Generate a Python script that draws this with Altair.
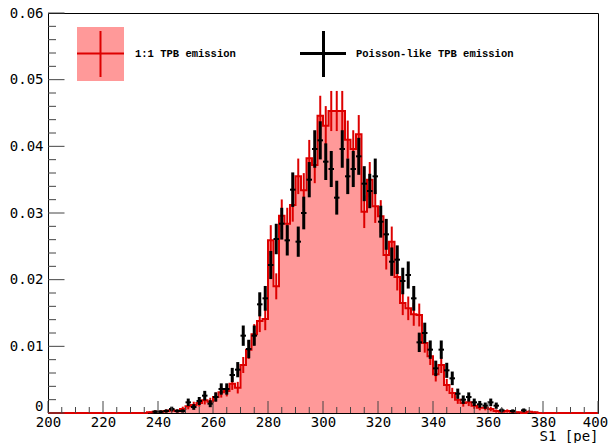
import altair as alt
import pandas as pd
import numpy as np

# ---------------- data ----------------
BIN_WIDTH = 2
bin_centers = list(range(235, 380, 2))  # 73 bins, 234..380

red_vals = [
    0.0000, 0.0001, 0.0002, 0.0002, 0.0003, 0.0004, 0.0003, 0.0006, 0.0010, 0.0012,
    0.0015, 0.0019, 0.0017, 0.0024, 0.0031, 0.0033, 0.0044, 0.0038, 0.0072, 0.0095,
    0.0118, 0.0138, 0.0141, 0.0259, 0.0190, 0.0296, 0.0284, 0.0312, 0.0355, 0.0334,
    0.0382, 0.0372, 0.0446, 0.0431, 0.0453, 0.0453, 0.0453, 0.0410, 0.0396, 0.0418,
    0.0302, 0.0350, 0.0310, 0.0295, 0.0237, 0.0257, 0.0204, 0.0165, 0.0157, 0.0148,
    0.0147, 0.0105, 0.0085, 0.0058, 0.0072, 0.0042, 0.0030, 0.0020, 0.0015, 0.0016,
    0.0011, 0.0008, 0.0008, 0.0006, 0.0003, 0.0002, 0.0003, 0.0002, 0.0001, 0.0000,
    0.0002, 0.0001, 0.0000,
]

black_vals = [
    0.0000, 0.0000, 0.0002, 0.0002, 0.0003, 0.0006, 0.0003, 0.0003, 0.0016, 0.0009,
    0.0018, 0.0026, 0.0014, 0.0024, 0.0036, 0.0036, 0.0057, 0.0065, 0.0116, 0.0096,
    0.0116, 0.0163, 0.0172, 0.0222, 0.0261, 0.0284, 0.0259, 0.0335, 0.0257, 0.0300,
    0.0350, 0.0396, 0.0409, 0.0377, 0.0366, 0.0323, 0.0396, 0.0355, 0.0366, 0.0385,
    0.0344, 0.0333, 0.0355, 0.0287, 0.0268, 0.0227, 0.0230, 0.0198, 0.0207, 0.0172,
    0.0106, 0.0120, 0.0095, 0.0067, 0.0095, 0.0064, 0.0052, 0.0029, 0.0020, 0.0024,
    0.0016, 0.0013, 0.0011, 0.0016, 0.0011, 0.0004, 0.0000, 0.0003, 0.0000, 0.0004,
    0.0000, 0.0000, 0.0000,
]

N_EVENTS = 5000  # statistics behind the Poisson error bars

x_major = list(range(200, 401, 20))
x_minor = [v for v in range(200, 401, 5) if v % 20 != 0]
y_major = [0.0, 0.01, 0.02, 0.03, 0.04, 0.05, 0.06]
y_minor = [round(i * 0.002, 3) for i in range(31) if i % 5 != 0]

legend_labels = ["1:1 TPB emission", "Poisson-like TPB emission"]

# ---------------- tables ----------------
X_MIN, X_MAX = 200, 400
last_edge = bin_centers[-1] + BIN_WIDTH / 2
step_x = [X_MIN] + [c - BIN_WIDTH / 2 for c in bin_centers] + [last_edge, X_MAX]
step_y = [0.0] + red_vals + [0.0, 0.0]
step_df = pd.DataFrame({"x": step_x, "y": step_y})

red_df = pd.DataFrame({"c": bin_centers, "v": red_vals})
red_df = red_df[red_df.v > 0].copy()
red_df["err"] = np.sqrt(red_df.v / N_EVENTS)
red_df["lo"] = red_df.v - red_df.err
red_df["hi"] = red_df.v + red_df.err

blk_df = pd.DataFrame({"c": bin_centers, "v": black_vals})
blk_df = blk_df[blk_df.v > 0].copy()
blk_df["err"] = np.sqrt(blk_df.v / N_EVENTS)
blk_df["lo"] = blk_df.v - blk_df.err
blk_df["hi"] = blk_df.v + blk_df.err
blk_df["l"] = blk_df.c - BIN_WIDTH / 2
blk_df["r"] = blk_df.c + BIN_WIDTH / 2

W, H = 550, 400
FONT = "DejaVu Sans Mono"
RED_FILL = "#ff9999"
RED_LINE = "#dd0000"

xs = alt.Scale(domain=[X_MIN, X_MAX], nice=False, zero=False)
ys = alt.Scale(domain=[0, 0.06], nice=False)

x_axis = alt.Axis(values=x_major, ticks=False, domain=False, grid=False,
                  labelFont=FONT, labelFontSize=14, labelColor="black",
                  labelPadding=2, labelFlush=False,
                  labelOffset={"condition": {"test": "datum.value == 400", "value": -3},
                               "value": 0},
                  title="S1  [pe]",
                  titleFont=FONT, titleFontSize=14, titleFontWeight="normal",
                  titleColor="black", titleAnchor="end", titlePadding=0)
y_axis = alt.Axis(values=y_major, ticks=False, domain=False, grid=False,
                  labelFont=FONT, labelFontSize=14, labelColor="black",
                  labelPadding=5, title=None,
                  labelBaseline={"condition": {"test": "datum.value == 0", "value": "bottom"},
                                 "value": "middle"},
                  labelExpr="datum.value == 0 ? '0' : format(datum.value, '.2f')")

area = alt.Chart(step_df).mark_area(interpolate="step-after", color=RED_FILL).encode(
    x=alt.X("x:Q", scale=xs, axis=x_axis),
    y=alt.Y("y:Q", scale=ys, axis=y_axis),
)
outline = alt.Chart(step_df).mark_line(interpolate="step-after", color=RED_LINE,
                                       strokeWidth=2).encode(
    x=alt.X("x:Q", scale=xs), y=alt.Y("y:Q", scale=ys))

red_err = alt.Chart(red_df).mark_rule(color=RED_LINE, strokeWidth=2).encode(
    x=alt.X("c:Q", scale=xs), y=alt.Y("lo:Q", scale=ys), y2="hi:Q")

blk_v = alt.Chart(blk_df).mark_rule(color="black", strokeWidth=3).encode(
    x=alt.X("c:Q", scale=xs), y=alt.Y("lo:Q", scale=ys), y2="hi:Q")
blk_h = alt.Chart(blk_df).mark_rule(color="black", strokeWidth=2).encode(
    x=alt.X("l:Q", scale=xs), x2="r:Q", y=alt.Y("v:Q", scale=ys))

# inside ticks
TICK = "#444444"
xt_major = alt.Chart(pd.DataFrame({"t": x_major})).mark_rule(color=TICK, strokeWidth=1).encode(
    x=alt.X("t:Q", scale=xs), y=alt.value(H), y2=alt.value(H - 12))
xt_minor = alt.Chart(pd.DataFrame({"t": x_minor})).mark_rule(color=TICK, strokeWidth=1).encode(
    x=alt.X("t:Q", scale=xs), y=alt.value(H), y2=alt.value(H - 6))
yt_major = alt.Chart(pd.DataFrame({"t": y_major})).mark_rule(color=TICK, strokeWidth=1).encode(
    y=alt.Y("t:Q", scale=ys), x=alt.value(0), x2=alt.value(16.5))
yt_minor = alt.Chart(pd.DataFrame({"t": y_minor})).mark_rule(color=TICK, strokeWidth=1).encode(
    y=alt.Y("t:Q", scale=ys), x=alt.value(0), x2=alt.value(8))

# legend
leg_df = pd.DataFrame({"label": legend_labels})
leg_box = alt.Chart(leg_df.iloc[:1]).mark_rect(color=RED_FILL).encode(
    x=alt.value(29), x2=alt.value(76), y=alt.value(14), y2=alt.value(68))
leg_red_v = alt.Chart(leg_df.iloc[:1]).mark_rule(color=RED_LINE, strokeWidth=2).encode(
    x=alt.value(52.5), y=alt.value(18), y2=alt.value(64))
leg_red_h = alt.Chart(leg_df.iloc[:1]).mark_rule(color=RED_LINE, strokeWidth=2).encode(
    x=alt.value(29), x2=alt.value(76), y=alt.value(40.5))
leg_blk_v = alt.Chart(leg_df.iloc[:1]).mark_rule(color="black", strokeWidth=3).encode(
    x=alt.value(275.5), y=alt.value(18), y2=alt.value(64))
leg_blk_h = alt.Chart(leg_df.iloc[:1]).mark_rule(color="black", strokeWidth=3).encode(
    x=alt.value(252), x2=alt.value(298), y=alt.value(40.5))
leg_txt1 = alt.Chart(leg_df.iloc[:1]).mark_text(
    align="left", baseline="middle", font="Liberation Mono", fontSize=10.5,
    fontWeight="bold", color="black").encode(
    x=alt.value(87), y=alt.value(41), text="label:N")
leg_txt2 = alt.Chart(leg_df.iloc[1:]).mark_text(
    align="left", baseline="middle", font="Liberation Mono", fontSize=10.5,
    fontWeight="bold", color="black").encode(
    x=alt.value(308), y=alt.value(41), text="label:N")

chart = alt.layer(
    area, outline, red_err, blk_v, blk_h,
    xt_major, xt_minor, yt_major, yt_minor,
    leg_box, leg_red_v, leg_red_h, leg_blk_v, leg_blk_h, leg_txt1, leg_txt2,
).properties(
    width=W, height=H,
    autosize=alt.AutoSizeParams(type="none"),
    padding={"left": 48, "top": 13, "right": 11, "bottom": 30},
    background="white",
).configure_view(stroke="black", strokeWidth=1)

chart.save("out.html", embed_options={"renderer": "svg", "actions": False})
